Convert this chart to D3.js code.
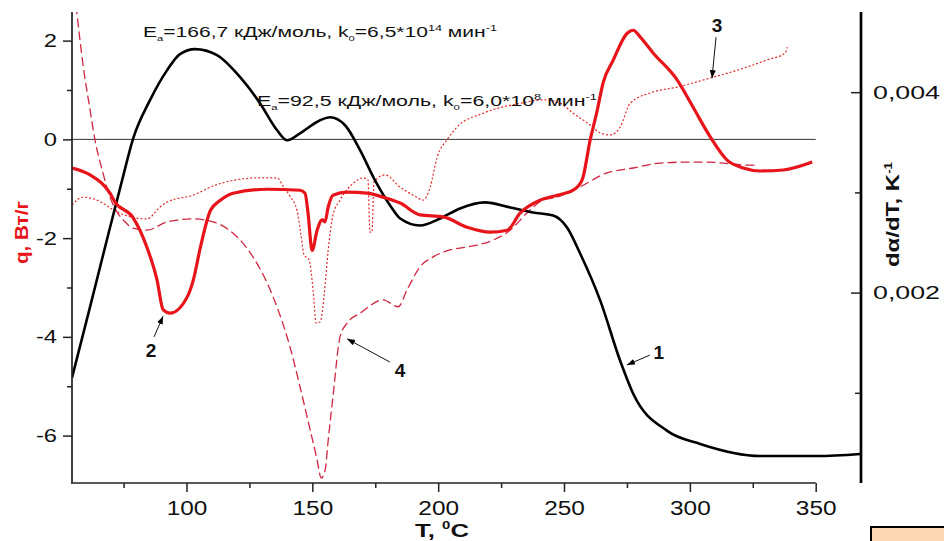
<!DOCTYPE html>
<html>
<head>
<meta charset="utf-8">
<script src="https://cdn.jsdelivr.net/npm/d3@7"></script>
<style>
body { margin: 0; background: #fff; }
svg text { font-family: "Liberation Sans", Arial, sans-serif; }
</style>
</head>
<body>
<svg id="chart" width="944" height="541"></svg>
<script>
// curve 1 - dα/dT (black, right axis)
var curve1T = [54.5, 61.7, 69.6, 74.4, 78.7, 85.5, 92.3, 97.4, 103.4, 112.1, 121.3, 129.2, 136, 140, 145.1, 153.1, 157, 163, 169, 174.9, 180.9, 184.9, 192.8, 200.8, 208.7, 218.6, 228.6, 237.7, 245.7, 251.2, 256.4, 264.4, 272.3, 277.5, 291, 304.1, 328, 350.6, 367.7];
var curve1V = [0.00115, 0.00186, 0.00265, 0.00312, 0.00353, 0.00392, 0.00422, 0.00438, 0.00443, 0.00437, 0.00415, 0.00389, 0.00362, 0.00352, 0.00359, 0.00372, 0.00375, 0.00367, 0.00342, 0.00312, 0.00287, 0.00274, 0.00267, 0.00274, 0.00284, 0.0029, 0.00285, 0.0028, 0.00277, 0.00265, 0.00239, 0.00192, 0.00132, 0.00099, 0.00062, 0.00049, 0.00037, 0.00037, 0.00039];

// curve 2 - q (thick red)
var curve2T = [54.5, 61.7, 69.6, 71.6, 78.7, 84.3, 88.3, 90.7, 93.5, 100.3, 102.7, 105.5, 109.5, 113.3, 118.5, 132, 145.1, 147.1, 148.3, 149.9, 151.9, 153.9, 155, 156.3, 158.2, 163.8, 171.7, 178.1, 184.9, 192.8, 202, 211.5, 220.6, 227.4, 232.6, 240.5, 247.3, 253.6, 257.2, 260.4, 263.2, 265.5, 269.5, 275.1, 277.5, 280.3, 285.4, 295, 301.3, 308.1, 314.8, 321.2, 327.9, 337.1, 348.6];
var curve2Q = [-0.58, -0.72, -1.09, -1.27, -1.58, -2.19, -2.85, -3.45, -3.52, -3.19, -2.85, -2.19, -1.44, -1.24, -1.09, -1.01, -1.03, -1.09, -1.5, -2.25, -1.84, -1.63, -1.67, -1.37, -1.13, -1.07, -1.09, -1.17, -1.29, -1.53, -1.57, -1.78, -1.88, -1.84, -1.49, -1.23, -1.13, -1.03, -0.82, -0.01, 0.59, 1.14, 1.6, 2.15, 2.21, 2.07, 1.75, 1.2, 0.65, 0.05, -0.42, -0.58, -0.64, -0.62, -0.46];

// curve 3 - dotted red
var curve3T = [54.5, 58.9, 64.4, 72.4, 79.5, 84.3, 89.5, 92.3, 102.6, 111.3, 118.5, 129.2, 136, 138.4, 141.1, 143.9, 145.5, 146.7, 148.7, 150.3, 151.5, 153.1, 154.7, 156.3, 158.2, 161, 166.2, 170.2, 172.1, 172.9, 173.7, 174.5, 178.9, 184.9, 190.8, 194, 196.8, 199.6, 203.5, 207.5, 217.9, 232.6, 241.7, 248.5, 253.6, 260.4, 264.4, 268.3, 272.3, 276.3, 284.2, 295, 309.3, 318.8, 330.7, 337.9, 338.7];
var curve3Q = [-1.33, -1.17, -1.23, -1.47, -1.59, -1.61, -1.37, -1.27, -1.13, -0.93, -0.83, -0.78, -0.78, -0.95, -1.15, -1.44, -1.94, -2.34, -2.44, -3.05, -3.72, -3.7, -3.15, -2.24, -1.53, -1.23, -0.89, -0.78, -0.82, -1.88, -1.88, -0.86, -0.72, -0.97, -1.15, -1.23, -0.97, -0.36, -0.01, 0.25, 0.53, 0.73, 0.8, 0.73, 0.53, 0.29, 0.13, 0.09, 0.25, 0.73, 0.94, 1.06, 1.26, 1.4, 1.61, 1.75, 1.87];

// curve 4 - dashed red
var curve4T = [54.5, 56.4, 59, 61.7, 63.6, 66.8, 69.6, 72.4, 75.6, 78.7, 84.3, 92.3, 102.6, 110.5, 118.5, 126.4, 134.4, 141.1, 145.1, 149.1, 151.9, 153.5, 155.1, 156.3, 158.2, 161, 163.8, 169, 178.1, 184.1, 187.6, 192.8, 198, 204.7, 211.5, 221.8, 228.6, 235.3, 241.7, 247.3, 256.4, 267.1, 277.5, 288.2, 298.9, 306.9, 313.3, 322.8, 326.8];
var curve4Q = [3.5, 2.58, 1.47, 0.59, 0.0, -0.68, -1.17, -1.47, -1.67, -1.8, -1.84, -1.67, -1.61, -1.67, -1.9, -2.38, -3.19, -4.2, -5.01, -5.88, -6.49, -6.86, -6.69, -6.09, -5.21, -4.0, -3.72, -3.52, -3.25, -3.39, -3.05, -2.58, -2.38, -2.24, -2.18, -2.04, -1.84, -1.49, -1.23, -1.17, -0.96, -0.68, -0.58, -0.48, -0.46, -0.46, -0.48, -0.52, -0.52];

// ticks
var tempTicks = [100, 150, 200, 250, 300, 350];
var tempMinor = [75, 125, 175, 225, 275, 325];
var qTicks = [2, 0, -2, -4, -6];
var qMinor = [1, -1, -3, -5];
var rateTicks = [0.004, 0.002];
var rateMinor = [0.003, 0.001];

// curve number labels and their arrows (T, q)
var labelNames = ["1", "2", "3", "4"];
var labelPos = [[287.7, -4.31], [85.9, -4.27], [310.8, 2.32], [184.8, -4.67]];
var arrowFrom = [[284.1, -4.37], [87.1, -4.0], [310.4, 2.07], [180.8, -4.51]];
var arrowTo = [[275.0, -4.57], [90.7, -3.58], [308.8, 1.24], [163.8, -4.04]];

var svg = d3.select("#chart");
var plot = {left: 72, right: 861, top: 12, bottom: 483};

var x = d3.scaleLinear().domain([54.5, 368]).range([plot.left, plot.right]);
var y = d3.scaleLinear().domain([-6.96, 2.58]).range([plot.bottom, plot.top]);
var yR = d3.scaleLinear().domain([0.0001, 0.0048]).range([plot.bottom, plot.top]);

// stretch text wider, the original font is broad
function stretch(sel, k) {
	sel.each(function() {
		var len = this.getComputedTextLength();
		d3.select(this).attr("textLength", len * k).attr("lengthAdjust", "spacingAndGlyphs");
	});
}

var defs = svg.append("defs");
defs.append("clipPath").attr("id", "clip")
	.append("rect")
	.attr("x", plot.left).attr("y", plot.top)
	.attr("width", plot.right - plot.left).attr("height", plot.bottom - plot.top);
defs.append("marker").attr("id", "head")
	.attr("markerUnits", "userSpaceOnUse")
	.attr("markerWidth", 9).attr("markerHeight", 7)
	.attr("refX", 8).attr("refY", 3)
	.attr("orient", "auto")
	.append("path").attr("d", "M0,0 L8,3 L0,6 Z").attr("fill", "#000");

// zero line
svg.append("line")
	.attr("x1", x(54.5)).attr("x2", x(350))
	.attr("y1", y(0)).attr("y2", y(0))
	.attr("stroke", "#333").attr("stroke-width", 1);

var lineQ = d3.line().x(d => x(d[0])).y(d => y(d[1])).curve(d3.curveMonotoneX);
var lineR = d3.line().x(d => x(d[0])).y(d => yR(d[1])).curve(d3.curveMonotoneX);

var curves = svg.append("g").attr("clip-path", "url(#clip)");

curves.append("path")
	.attr("d", lineQ(d3.zip(curve4T, curve4Q)))
	.attr("fill", "none").attr("stroke", "#d02640").attr("stroke-width", 1.3)
	.attr("stroke-dasharray", "9,4");

curves.append("path")
	.attr("d", lineQ(d3.zip(curve3T, curve3Q)))
	.attr("fill", "none").attr("stroke", "#e02a2a").attr("stroke-width", 1.2)
	.attr("stroke-dasharray", "2,2");

curves.append("path")
	.attr("d", lineR(d3.zip(curve1T, curve1V)))
	.attr("fill", "none").attr("stroke", "#000").attr("stroke-width", 2.6);

curves.append("path")
	.attr("d", lineQ(d3.zip(curve2T, curve2Q)))
	.attr("fill", "none").attr("stroke", "#e8141b").attr("stroke-width", 3.2);

// left axis
var gLeft = svg.append("g").attr("transform", "translate(" + plot.left + ",0)")
	.call(d3.axisLeft(y).tickValues(qTicks).tickSize(9).tickPadding(6).tickFormat(d => String(d)));
svg.append("g").attr("transform", "translate(" + plot.left + ",0)")
	.call(d3.axisLeft(y).tickValues(qMinor).tickSize(5).tickFormat(""))
	.select(".domain").remove();
gLeft.select(".domain").remove();

// bottom axis
var gBottom = svg.append("g").attr("transform", "translate(0," + plot.bottom + ")")
	.call(d3.axisBottom(x).tickValues(tempTicks).tickSize(9).tickPadding(9).tickFormat(d => String(d)));
svg.append("g").attr("transform", "translate(0," + plot.bottom + ")")
	.call(d3.axisBottom(x).tickValues(tempMinor).tickSize(5).tickFormat(""))
	.select(".domain").remove();
gBottom.select(".domain").remove();

// right axis, ticks inward
var gRight = svg.append("g").attr("transform", "translate(" + plot.right + ",0)")
	.call(d3.axisRight(yR).tickValues(rateTicks).tickSize(-10).tickPadding(12).tickFormat(d => d.toFixed(3).replace(".", ",")));
svg.append("g").attr("transform", "translate(" + plot.right + ",0)")
	.call(d3.axisRight(yR).tickValues(rateMinor).tickSize(-6).tickFormat(""))
	.select(".domain").remove();
gRight.select(".domain").remove();

svg.selectAll(".tick line").attr("stroke", "#222").attr("stroke-width", 1.5);
svg.selectAll(".tick text").attr("fill", "#111")
	.style("font-family", '"Liberation Sans", Arial, sans-serif');
gLeft.selectAll("text").style("font-size", "19px");
gBottom.selectAll("text").style("font-size", "20px");
gRight.selectAll("text").style("font-size", "19px");
stretch(gLeft.selectAll("text"), 1.25);
stretch(gBottom.selectAll("text"), 1.22);
gRight.selectAll("text").attr("textLength", 67).attr("lengthAdjust", "spacingAndGlyphs");

// axis lines
svg.append("line").attr("x1", plot.left).attr("x2", plot.left)
	.attr("y1", plot.top).attr("y2", plot.bottom)
	.attr("stroke", "#222").attr("stroke-width", 1.7);
svg.append("line").attr("x1", plot.left - 1).attr("x2", x(350))
	.attr("y1", plot.bottom).attr("y2", plot.bottom)
	.attr("stroke", "#222").attr("stroke-width", 1.7);
svg.append("line").attr("x1", plot.right).attr("x2", plot.right)
	.attr("y1", plot.top).attr("y2", plot.bottom)
	.attr("stroke", "#000").attr("stroke-width", 2.7);

// axis titles
var qTitle = svg.append("text")
	.attr("transform", "translate(28," + ((plot.top + plot.bottom) / 2 - 15) + ") rotate(-90)")
	.attr("text-anchor", "middle")
	.attr("fill", "#e8141b").attr("font-weight", "bold").style("font-size", "19px")
	.text("q, Вт/г");
qTitle.attr("textLength", 63).attr("lengthAdjust", "spacingAndGlyphs");

var rTitle = svg.append("text")
	.attr("transform", "translate(899," + ((plot.top + plot.bottom) / 2 - 33) + ") rotate(-90)")
	.attr("text-anchor", "middle")
	.attr("fill", "#111").attr("font-weight", "bold").style("font-size", "18px");
rTitle.append("tspan").text("dα/dT, K");
rTitle.append("tspan").attr("dy", -7).style("font-size", "10px").text("-1");
rTitle.attr("textLength", 105).attr("lengthAdjust", "spacingAndGlyphs");

var tTitle = svg.append("text")
	.attr("x", 442).attr("y", 537)
	.attr("text-anchor", "middle")
	.attr("fill", "#111").attr("font-weight", "bold").style("font-size", "19px");
tTitle.append("tspan").text("T, ");
tTitle.append("tspan").attr("dy", -8).style("font-size", "11px").text("0");
tTitle.append("tspan").attr("dy", 8).text("C");
tTitle.attr("textLength", 54).attr("lengthAdjust", "spacingAndGlyphs");

// activation energy notes
function kineticNote(T, q, ea, k0, pow, len) {
	var t = svg.append("text")
		.attr("x", x(T)).attr("y", y(q))
		.attr("fill", "#111").style("font-size", "15px");
	t.append("tspan").text("E");
	t.append("tspan").attr("dy", 4).style("font-size", "8px").text("a");
	t.append("tspan").attr("dy", -4).text("=" + ea + " кДж/моль, k");
	t.append("tspan").attr("dy", 4).style("font-size", "8px").text("0");
	t.append("tspan").attr("dy", -4).text("=" + k0 + "*10");
	t.append("tspan").attr("dy", -6).style("font-size", "9px").text(pow);
	t.append("tspan").attr("dy", 6).text(" мин");
	t.append("tspan").attr("dy", -6).style("font-size", "9px").text("-1");
	t.attr("textLength", len).attr("lengthAdjust", "spacingAndGlyphs");
}
kineticNote(82.7, 2.07, "166,7", "6,5", "14", 354);
kineticNote(128.0, 0.68, "92,5", "6,0", "8", 340);

// curve numbers with arrows
for (var i = 0; i < labelNames.length; i++) {
	svg.append("line")
		.attr("x1", x(arrowFrom[i][0])).attr("y1", y(arrowFrom[i][1]))
		.attr("x2", x(arrowTo[i][0])).attr("y2", y(arrowTo[i][1]))
		.attr("stroke", "#111").attr("stroke-width", 1)
		.attr("marker-end", "url(#head)");
	svg.append("text")
		.attr("x", x(labelPos[i][0])).attr("y", y(labelPos[i][1]))
		.attr("dy", "0.36em").attr("text-anchor", "middle")
		.attr("font-weight", "bold").style("font-size", "19px").attr("fill", "#111")
		.text(labelNames[i]);
}

// corner of the next panel peeking in
svg.append("rect")
	.attr("x", 871).attr("y", 527).attr("width", 90).attr("height", 30)
	.attr("fill", "#fcd5b4").attr("stroke", "#000").attr("stroke-width", 2);
</script>
</body>
</html>
